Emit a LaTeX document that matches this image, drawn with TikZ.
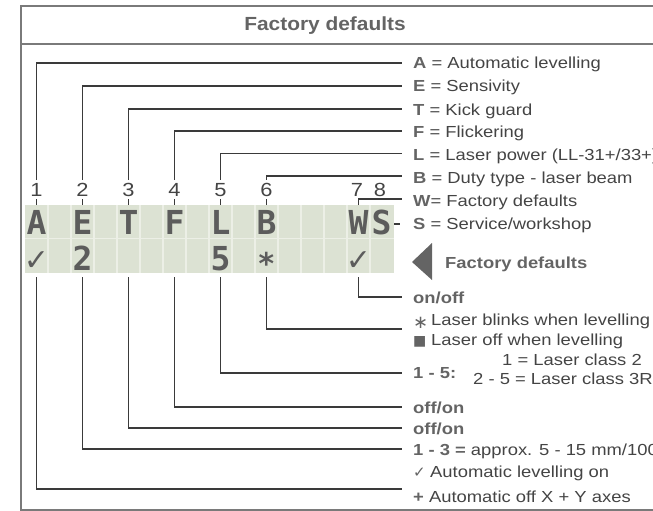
\documentclass[tikz,border=0pt]{standalone}
\usepackage{fontspec}
\setmainfont{Liberation Sans}[FakeStretch=1.15]
\newfontfamily\titlef{Liberation Sans}[FakeStretch=1.1]
\newfontfamily\lcdf{DejaVu Sans Mono}
\newfontfamily\symf{DejaVu Sans}
\usetikzlibrary{calc}
\definecolor{frm}{HTML}{7A7A7A}
\definecolor{ink}{HTML}{444444}
\definecolor{bld}{HTML}{646464}
\definecolor{lcdbg}{HTML}{DCE2D3}
\definecolor{lcdgrid}{HTML}{ECEFE6}
\definecolor{lcdink}{HTML}{5C5C5C}
\definecolor{lead}{HTML}{3A3A3A}
\newcommand\bk[1]{{\bfseries\color{bld}#1}}
\newcommand\symbox[2]{\makebox[#1][l]{#2}}
\begin{document}
\begin{tikzpicture}[x=1pt,y=-1pt,
  lab/.style={anchor=base west, inner sep=0pt, text=ink, font=\fontsize{16}{19}\selectfont},
  num/.style={anchor=base, inner sep=0pt, text=ink, font=\fontsize{19}{21}\selectfont},
  lcdch/.style={anchor=base, inner sep=0pt, text=lcdink, font=\lcdf\bfseries\fontsize{33}{33}\selectfont},
  lead/.style={draw=lead, line width=1.1pt},
  frame/.style={draw=frm, line width=1.8pt}]
\useasboundingbox (0,0) rectangle (653,511);
% frame
\draw[frame] (670,6) -- (21,6) -- (21,510) -- (670,510);
\draw[frame] (21,44) -- (670,44);
\node[anchor=base, inner sep=0pt, text=bld, font=\titlef\bfseries\fontsize{19}{22}\selectfont] (title) at (325,31) {Factory defaults};
% LCD
\node[fill=lcdbg, draw=none, minimum width=369pt, minimum height=68pt, anchor=north west, inner sep=0pt] (lcd) at (25,205) {};
\foreach \k in {1,...,15} \draw[lcdgrid, line width=1.2pt] (25+23*\k,205) -- (25+23*\k,273);
\draw[lcdgrid, line width=1.2pt] (25,238.5) -- (394,238.5);
% LCD row 1
\node[lcdch] (cA) at (36.5,234) {A};
\node[lcdch] (cE) at (82.5,234) {E};
\node[lcdch] (cT) at (128.5,234) {T};
\node[lcdch] (cF) at (174.5,234) {F};
\node[lcdch] (cL) at (220.5,234) {L};
\node[lcdch] (cB) at (266.5,234) {B};
\node[lcdch] (cW) at (358.5,234) {W};
\node[lcdch] (cS) at (381.5,234) {S};
% LCD row 2
\node[lcdch, font=\symf\bfseries\fontsize{30}{30}\selectfont] (dA) at (36.5,270) {✓};
\node[lcdch] (dE) at (82.5,270) {2};
\node[lcdch] (dL) at (220.5,270) {5};
\node[lcdch, font=\lcdf\bfseries\fontsize{30}{30}\selectfont] (dB) at (266.5,274) {*};
\node[lcdch, font=\symf\bfseries\fontsize{30}{30}\selectfont] (dW) at (358.5,270) {✓};
% column numbers
\node[num] (n1) at (36.5,196) {1};
\node[num] (n2) at (82.5,196) {2};
\node[num] (n3) at (128.5,196) {3};
\node[num] (n4) at (174.5,196) {4};
\node[num] (n5) at (220.5,196) {5};
\node[num] (n6) at (266.5,196) {6};
\node[num] (n7) at (357,196) {7};
\node[num] (n8) at (380,196) {8};
% ticks
\foreach \n in {n1,n2,n3,n4,n5,n6}
  \draw[lead] ($(\n.base)+(0,3)$) -- (\n |- lcd.north);
% top leader ends
\coordinate (eA) at (402,63);
\coordinate (eE) at (402,86);
\coordinate (eT) at (402,109);
\coordinate (eF) at (402,131);
\coordinate (eL) at (402,153.5);
\coordinate (eB) at (402,176);
\coordinate (eW) at (402,199);
\coordinate (eS) at (400,224);
\coordinate (sS) at (394,224);
\draw[lead] ($(n1.north)+(0,-3)$) |- (eA);
\draw[lead] ($(n2.north)+(0,-3)$) |- (eE);
\draw[lead] ($(n3.north)+(0,-3)$) |- (eT);
\draw[lead] ($(n4.north)+(0,-3)$) |- (eF);
\draw[lead] ($(n5.north)+(0,-3)$) |- (eL);
\draw[lead] ($(n6.north)+(0,-3)$) |- (eB);
\draw[lead] (cW |- lcd.north) |- (eW);
\draw[lead] (sS) -- (eS);
% top labels
\node[lab] (lA) at (413,69) {\bk{A} = Automatic levelling};
\node[lab] (lE) at (413,92) {\bk{E} = Sensivity};
\node[lab] (lT) at (413,115) {\bk{T} = Kick guard};
\node[lab] (lF) at (413,137) {\bk{F} = Flickering};
\node[lab] (lL) at (413,160) {\bk{L} = Laser power (LL-31+/33+)};
\node[lab] (lB) at (413,183) {\bk{B} = Duty type - laser beam};
\node[lab] (lW) at (413,206) {\bk{W}= Factory defaults};
\node[lab] (lS) at (413,229) {\bk{S} = Service/workshop};
% factory defaults marker
\fill[bld] (412,262) -- (432,243) -- (432,280) -- cycle;
\node[lab] (fd) at (445,268) {\bk{Factory defaults}};
% bottom leader ends
\coordinate (fW) at (402,297);
\coordinate (fB) at (402,329);
\coordinate (fL) at (402,373);
\coordinate (fF) at (402,407);
\coordinate (fT) at (402,428);
\coordinate (fE) at (402,449);
\coordinate (fA) at (402,489);
\draw[lead] ($(cW |- lcd.south)+(0,4)$) |- (fW);
\draw[lead] ($(cB |- lcd.south)+(0,4)$) |- (fB);
\draw[lead] ($(cL |- lcd.south)+(0,4)$) |- (fL);
\draw[lead] ($(cF |- lcd.south)+(0,4)$) |- (fF);
\draw[lead] ($(cT |- lcd.south)+(0,4)$) |- (fT);
\draw[lead] ($(cE |- lcd.south)+(0,4)$) |- (fE);
\draw[lead] ($(cA |- lcd.south)+(0,4)$) |- (fA);
% bottom labels
\node[lab] (gW) at (413,303) {\bk{on/off}};
\node[lab] (gB1) at (413,325) {\symbox{18pt}{\symf\fontsize{18}{18}\selectfont\color{bld}\raisebox{-3pt}{∗}}Laser blinks when levelling};
\node[lab] (gB2) at (413,345) {\symbox{18pt}{\symf\fontsize{14}{14}\selectfont\color{bld}■}Laser off when levelling};
\node[lab] (gL1) at (502,365) {1 = Laser class 2};
\node[lab] (gL) at (413,378) {\bk{1 - 5:}};
\node[lab] (gL2) at (473,384) {2 - 5 = Laser class 3R};
\node[lab] (gF) at (413,413) {\bk{off/on}};
\node[lab] (gT) at (413,434) {\bk{off/on}};
\node[lab] (gE) at (413,455) {\bk{1 - 3 =} approx. 5 - 15 mm/100};
\node[lab] (gA1) at (413,477) {\symbox{17pt}{\symf\fontsize{15}{15}\selectfont\color{bld}✓}Automatic levelling on};
\node[lab] (gA2) at (413,502) {\bk{+} Automatic off X + Y axes};
\end{tikzpicture}
\end{document}
